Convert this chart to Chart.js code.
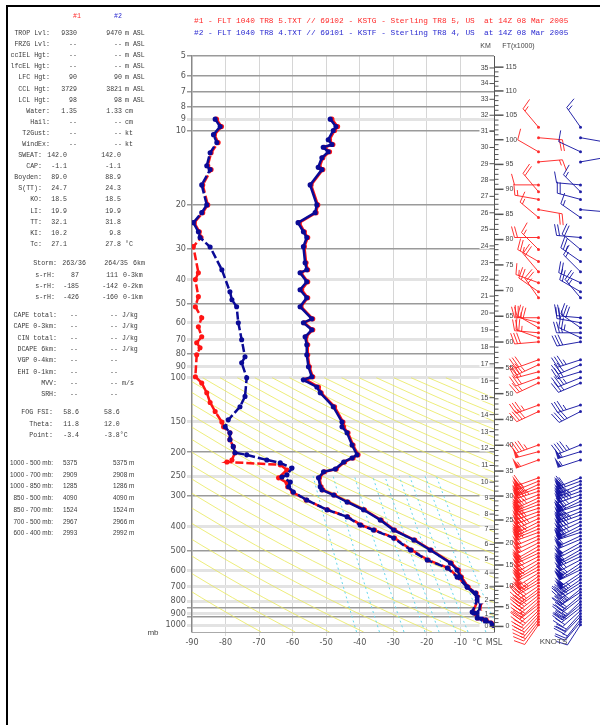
<!DOCTYPE html>
<html>
<head>
<meta charset="utf-8">
<script src="https://cdn.jsdelivr.net/npm/chart.js@4.4.0/dist/chart.umd.min.js"></script>
<style>
body { margin: 0; width: 600px; height: 725px; overflow: hidden; background: #fff; position: relative; }
#frame { position: absolute; left: 6px; top: 5px; width: 620px; height: 740px; border-top: 2px solid #000; border-left: 2px solid #000; }
canvas { position: absolute; left: 0; top: 0; }
.t { position: absolute; white-space: pre; font: 6.6px 'Liberation Mono', monospace; line-height: 8px; color: #3a3a3a; }
</style>
</head>
<body>
<div id="frame"></div>
<canvas id="sounding" width="600" height="725"></canvas>
<script>
// pressure axis ticks (mb)
const pTicks = [5, 6, 7, 8, 9, 10, 20, 30, 40, 50, 60, 70, 80, 90, 100, 150, 200, 250, 300, 400, 500, 600, 700, 800, 850, 900, 925, 1000];
const darkLevels = [5, 6, 7, 8, 10, 20, 30, 50, 80, 200, 300, 500, 850, 925];

// temperature, both soundings share levels
const pT = [9.0, 9.65, 10.0, 10.9, 11.4, 11.7, 12.2, 12.9, 14.1, 14.4, 16.6, 20.0, 21.5, 23.6, 25.7, 27.1, 29.5, 34.3, 36.6, 37.6, 40.9, 44.1, 47.5, 51.6, 57.8, 59.9, 64.0, 68.3, 73.6, 80.8, 90.3, 99.1, 102, 109, 115, 131, 151, 158, 167, 187, 205, 211, 219, 234, 240, 254, 276, 284, 298, 318, 342, 376, 413, 453, 497, 561, 599, 639, 702, 770, 807, 886, 894, 928, 955, 982, 1003];
const T1 = [-48.3, -46.6, -47.5, -49.0, -48.0, -50.5, -49.0, -51.0, -52.0, -51.0, -54.5, -52.5, -53.0, -58.0, -56.5, -55.5, -56.5, -56.0, -55.5, -57.5, -55.5, -57.3, -55.5, -57.5, -54.0, -56.5, -54.0, -56.0, -55.5, -55.5, -55.0, -54.0, -56.0, -52.3, -51.5, -47.5, -45.0, -44.8, -43.5, -42.0, -40.5, -42.0, -44.5, -47.0, -50.5, -52.0, -51.5, -51.0, -47.5, -43.5, -38.6, -33.6, -29.6, -23.6, -18.7, -12.7, -10.6, -9.7, -7.7, -4.8, -3.8, -4.2, -5.7, -3.8, -2.3, -0.8, 1.2];
const T2 = [-48.8, -47.1, -47.9, -49.4, -48.3, -50.9, -49.4, -51.3, -52.4, -51.3, -54.8, -52.8, -53.3, -58.4, -56.8, -55.8, -56.8, -56.3, -55.8, -57.8, -55.8, -57.8, -55.8, -57.8, -54.3, -56.8, -54.3, -56.3, -55.8, -55.8, -55.3, -54.3, -56.8, -52.8, -51.8, -47.9, -45.3, -45.3, -43.8, -42.3, -40.8, -42.3, -44.8, -47.3, -50.8, -52.3, -51.8, -51.3, -47.8, -43.8, -38.9, -33.9, -29.9, -23.9, -19.0, -13.0, -11.0, -10.0, -8.0, -5.0, -4.0, -4.5, -6.0, -4.0, -2.5, -1.0, 1.0];

// dewpoint #1 (red)
const pTd1 = [9.0, 9.65, 10.4, 11.2, 12.3, 13.9, 14.4, 16.6, 20.0, 21.5, 23.6, 25.7, 27.1, 29.5, 37.6, 40.1, 47.0, 51.6, 57.2, 62.2, 68.3, 72.2, 75.6, 80.8, 99.1, 105, 115, 126, 137, 151, 158, 167, 178, 190, 201, 215, 219, 225, 236, 254, 266, 276, 290, 312, 342, 365, 394, 413, 445, 497, 546, 588, 639, 702, 742, 792, 886, 937, 972, 1003];
const Td1 = [-82.7, -81.2, -83.3, -82.2, -84.3, -85.3, -84.3, -86.8, -85.3, -86.8, -89.3, -87.8, -87.3, -89.6, -88.1, -89.0, -88.1, -89.0, -87.1, -88.1, -87.1, -88.6, -87.6, -88.6, -89.0, -87.1, -85.6, -84.6, -83.1, -81.1, -80.6, -78.7, -78.7, -77.7, -77.2, -78.1, -79.6, -63.7, -61.7, -64.2, -61.7, -61.5, -60.0, -56.0, -49.6, -43.6, -39.6, -35.6, -29.6, -24.6, -19.6, -13.6, -10.8, -7.8, -5.3, -4.8, -6.3, -4.8, -2.3, 0.0];

// dewpoint #2 (blue)
const pTd2 = [9.0, 9.65, 10.4, 11.2, 12.3, 13.9, 14.4, 16.6, 20.0, 21.5, 23.6, 25.7, 27.1, 29.6, 36.6, 44.9, 48.4, 51.6, 59.9, 70.2, 82.3, 87.0, 100, 119, 131, 148, 158, 167, 178, 190, 201, 205, 215, 221, 232, 247, 252, 264, 276, 290, 312, 342, 365, 394, 413, 445, 497, 546, 588, 639, 702, 742, 792, 886, 937, 972, 1003];
const Td2 = [-83.1, -81.6, -83.6, -82.6, -84.6, -85.6, -84.6, -87.1, -85.6, -87.1, -89.6, -88.1, -87.6, -84.6, -81.1, -78.7, -78.1, -76.7, -76.2, -75.2, -74.2, -75.2, -73.7, -74.2, -75.7, -79.2, -80.1, -78.7, -78.7, -77.7, -77.2, -73.7, -67.7, -63.7, -60.2, -61.7, -63.2, -60.7, -61.2, -59.8, -55.8, -49.8, -43.8, -39.9, -35.9, -29.9, -24.9, -19.9, -13.9, -11.0, -8.0, -5.5, -5.0, -6.5, -5.0, -2.5, -0.2];

// winds (mb, deg, kt)
const windP = [9.7, 10.7, 12.2, 13.4, 16.6, 17.7, 19.0, 20.9, 22.5, 27.1, 30.3, 33.9, 37.3, 41.3, 44.9, 47.5, 57.2, 59.9, 62.8, 65.8, 68.9, 71.6, 84.6, 88.6, 94.6, 100, 105, 129, 137, 187, 199, 215,
  254, 262, 270, 279, 288, 297, 306, 316, 326, 337, 348, 359, 371, 383, 396, 409, 422, 436, 450, 465, 480, 496, 512, 528, 545, 562, 580, 598, 616, 635, 655, 675, 695, 716, 737, 758, 780, 803, 826, 850, 874, 898, 923, 948, 973, 998];
const wDir1 = [320, 95, 300, 85, 270, 320, 280, 100, 310, 270, 315, 300, 320, 290, 305, 325, 270, 285, 300, 275, 290, 265, 250, 245, 255, 250, 245, 250, 245, 250, 255, 250,
  250, 248, 245, 250, 252, 248, 245, 247, 250, 252, 250, 248, 245, 243, 245, 248, 250, 247, 245, 243, 240, 242, 245, 243, 240, 238, 240, 242, 238, 235, 237, 240, 236, 233, 235, 232, 230, 228, 232, 230, 226, 224, 222, 220, 218, 215];
const wSpd1 = [15, 20, 10, 15, 10, 20, 15, 20, 15, 20, 15, 25, 20, 15, 20, 25, 20, 25, 30, 20, 25, 30, 30, 35, 30, 30, 25, 35, 40, 45, 50, 55,
  60, 65, 70, 80, 85, 80, 75, 70, 65, 70, 75, 80, 85, 80, 75, 70, 65, 60, 55, 55, 50, 55, 60, 65, 70, 70, 65, 60, 55, 50, 45, 45, 40, 40, 35, 35, 30, 30, 25, 25, 25, 20, 20, 15, 15, 10];
const wDir2 = [325, 100, 295, 80, 275, 315, 285, 95, 305, 275, 310, 305, 315, 295, 300, 320, 275, 280, 305, 270, 295, 260, 252, 247, 253, 248, 247, 252, 243, 248, 253, 252,
  248, 250, 247, 248, 250, 250, 243, 245, 252, 250, 248, 250, 247, 245, 243, 246, 252, 245, 247, 241, 242, 240, 243, 245, 242, 236, 238, 244, 236, 237, 235, 238, 238, 231, 237, 230, 232, 226, 230, 232, 228, 222, 224, 218, 220, 213];
const wSpd2 = [15, 15, 10, 20, 10, 15, 20, 15, 15, 20, 20, 25, 15, 20, 20, 25, 25, 20, 30, 25, 25, 30, 35, 30, 30, 35, 25, 35, 40, 45, 55, 55,
  60, 70, 70, 75, 85, 85, 75, 70, 70, 70, 75, 85, 80, 80, 75, 70, 65, 60, 55, 50, 55, 55, 60, 65, 70, 65, 65, 60, 50, 50, 45, 40, 40, 40, 35, 30, 30, 30, 25, 25, 20, 20, 20, 15, 10, 10];

// background lines
const thetaLines = [200, 210, 220, 230, 240, 250, 260, 270, 280, 290, 300, 310, 320, 330, 340, 350, 360, 370, 380, 390, 400, 410, 420, 430, 440, 450, 460, 470, 480, 490, 500];
const adiabatP = [1067, 1000, 925, 850, 775, 700, 625, 550, 475, 400, 340, 280, 230, 190, 150, 125, 100];
const mixLines = [0.1, 0.2, 0.4, 0.7, 1, 1.5, 2, 3, 4];
const mixP = [1067, 1000, 900, 800, 700, 600, 500, 400, 300, 250];

const kmTicks = [0, 1, 2, 3, 4, 5, 6, 7, 8, 9, 10, 11, 12, 13, 14, 15, 16, 17, 18, 19, 20, 21, 22, 23, 24, 25, 26, 27, 28, 29, 30, 31, 32, 33, 34, 35];
const ftMax = 115;

// standard atmosphere: height (m) -> pressure (mb)
function stdPressure(h) {
    if (h <= 11000) return 1013.25 * Math.pow(1 - 2.25577e-5 * h, 5.25588);
    if (h <= 20000) return 226.32 * Math.exp(-(h - 11000) / 6341.6);
    if (h <= 32000) return 54.749 * Math.pow(216.65 / (216.65 + 0.001 * (h - 20000)), 34.1632);
    return 8.6802 * Math.pow(228.65 / (228.65 + 0.0028 * (h - 32000)), 12.2011);
}

function mixT(w, p) {
    let es = w * p / (622 + w);
    let l = Math.log(es / 6.112);
    return 243.5 * l / (17.67 - l);
}

function pts(ps, ts) {
    return ps.map((p, i) => ({x: ts[i], y: p}));
}

let datasets = [];

thetaLines.forEach(th => {
    datasets.push({
        data: adiabatP.map(p => ({x: th * Math.pow(p / 1000, 0.286) - 273.15, y: p})),
        borderColor: 'rgba(232,232,90,0.8)', borderWidth: 1, pointRadius: 0, showLine: true, order: 10
    });
});
mixLines.forEach(w => {
    datasets.push({
        data: mixP.map(p => ({x: mixT(w, p), y: p})),
        borderColor: 'rgba(100,215,235,1)', borderWidth: 1, borderDash: [2, 3], pointRadius: 0, showLine: true, order: 9
    });
});

const red = 'rgb(255,20,20)';
const blue = 'rgb(10,10,150)';

datasets.push({data: pts(pTd1, Td1), borderColor: red, backgroundColor: red, borderWidth: 2.5, borderDash: [8, 3], pointRadius: 1.3, showLine: true, order: 4});
datasets.push({data: pts(pT, T1), borderColor: red, backgroundColor: red, borderWidth: 2.5, pointRadius: 1.3, showLine: true, order: 3});
datasets.push({data: pts(pTd2, Td2), borderColor: blue, backgroundColor: blue, borderWidth: 2.5, borderDash: [8, 3], pointRadius: 1.3, showLine: true, order: 2});
datasets.push({data: pts(pT, T2), borderColor: blue, backgroundColor: blue, borderWidth: 2.5, pointRadius: 1.3, showLine: true, order: 1});

function drawBarb(c, x, y, dir, spd, col) {
    let r = dir * Math.PI / 180;
    let sx = Math.sin(r), sy = -Math.cos(r);
    let fx = -sy, fy = sx;
    let L = 24, F = 11;
    c.strokeStyle = col;
    c.fillStyle = col;
    c.lineWidth = 1;
    c.beginPath();
    c.moveTo(x, y);
    c.lineTo(x + sx * L, y + sy * L);
    c.stroke();
    let s = Math.round(spd / 5) * 5;
    let d = L;
    while (s >= 50) {
        let px = x + sx * d, py = y + sy * d;
        c.beginPath();
        c.moveTo(px, py);
        c.lineTo(px + fx * F, py + fy * F);
        c.lineTo(x + sx * (d - 4), y + sy * (d - 4));
        c.closePath();
        c.fill();
        d -= 5;
        s -= 50;
    }
    while (s >= 10) {
        let px = x + sx * d, py = y + sy * d;
        c.beginPath();
        c.moveTo(px, py);
        c.lineTo(px + fx * F + sx * 3, py + fy * F + sy * 3);
        c.stroke();
        d -= 3;
        s -= 10;
    }
    if (s >= 5) {
        let px = x + sx * d, py = y + sy * d;
        c.beginPath();
        c.moveTo(px, py);
        c.lineTo(px + fx * F / 2 + sx * 1.5, py + fy * F / 2 + sy * 1.5);
        c.stroke();
    }
    c.beginPath();
    c.arc(x, y, 1.5, 0, Math.PI * 2);
    c.fill();
}

const sidePlugin = {
    id: 'side',
    afterDraw(chart) {
        const c = chart.ctx, a = chart.chartArea, ys = chart.scales.y;
        const x0 = Math.round(a.right) + 0.5;
        c.save();
        // height axis
        c.strokeStyle = '#555';
        c.lineWidth = 1;
        c.beginPath();
        c.moveTo(x0, a.top);
        c.lineTo(x0, a.bottom);
        c.stroke();
        c.fillStyle = '#444';
        c.font = "7px 'Liberation Sans', sans-serif";
        c.textBaseline = 'middle';
        kmTicks.forEach(km => {
            let yy = ys.getPixelForValue(stdPressure(km * 1000));
            c.fillStyle = '#fff';
            c.fillRect(x0 - 15, yy - 3, 10, 6);
            c.beginPath();
            c.moveTo(x0 - 5, yy);
            c.lineTo(x0, yy);
            c.stroke();
            c.fillStyle = '#444';
            c.textAlign = 'right';
            c.fillText(String(km), x0 - 6, yy);
        });
        for (let f = 0; f <= ftMax; f++) {
            let yy = ys.getPixelForValue(stdPressure(f * 304.8));
            let major = f % 5 === 0;
            c.lineWidth = major ? 1.5 : 1;
            c.beginPath();
            c.moveTo(x0, yy);
            c.lineTo(x0 + (major ? 9 : 4), yy);
            c.stroke();
            if (major) {
                c.textAlign = 'left';
                c.fillText(String(f), x0 + 11, yy);
            }
        }
        c.textAlign = 'center';
        c.fillText('KM', x0 - 9, 46);
        c.fillText('FT(x1000)', x0 + 24, 46);
        c.font = "8px 'Liberation Sans', sans-serif";
        c.fillText('mb', 153, 633);
        // wind barbs
        [[wDir1, wSpd1, x0 + 44, 'rgba(255,30,30,0.9)'], [wDir2, wSpd2, x0 + 86, 'rgba(15,15,160,0.9)']].forEach(col => {
            windP.forEach((p, i) => {
                drawBarb(c, col[2], ys.getPixelForValue(p), col[0][i], col[1][i], col[3]);
            });
        });
        c.fillStyle = '#444';
        c.fillText('KNOTS', x0 + 59, 642);
        c.restore();
    }
};

Chart.defaults.font.family = "'Liberation Sans Narrow', 'DejaVu Sans Condensed', 'Liberation Sans', sans-serif";

const chart = new Chart(document.getElementById('sounding'), {
    type: 'scatter',
    data: {datasets: datasets},
    options: {
        responsive: false,
        animation: false,
        layout: {padding: {left: 162, right: 106, top: 56, bottom: 73}},
        elements: {line: {tension: 0}},
        plugins: {legend: {display: false}, tooltip: {enabled: false}},
        scales: {
            x: {
                type: 'linear',
                min: -90,
                max: 0,
                ticks: {
                    stepSize: 5,
                    autoSkip: false,
                    maxRotation: 0,
                    padding: 1,
                    color: '#555',
                    font: {size: 9},
                    callback: v => v === 0 ? 'MSL' : (v === -5 ? '°C' : (v % 10 === 0 ? String(v) : ''))
                },
                grid: {
                    color: c => (c.tick && c.tick.value % 10 === 0 && c.tick.value > -90 && c.tick.value < 0) ? '#d6d6d6' : 'rgba(0,0,0,0)',
                    lineWidth: 1,
                    tickLength: 4
                },
                border: {display: true, color: '#aaa', width: 1},
                afterFit: s => { s.height = 20; }
            },
            y: {
                type: 'logarithmic',
                reverse: true,
                min: 5,
                max: 1067,
                afterBuildTicks: s => { s.ticks = pTicks.map(v => ({value: v})); },
                ticks: {
                    autoSkip: false,
                    padding: 1,
                    color: '#555',
                    font: {size: 9},
                    callback: v => (v === 850 || v === 925) ? '' : String(v)
                },
                grid: {
                    color: c => (c.tick && darkLevels.includes(c.tick.value)) ? '#9a9a9a' : '#e3e3e3',
                    lineWidth: c => (c.tick && darkLevels.includes(c.tick.value)) ? 1.5 : 3,
                    tickLength: 5
                },
                border: {display: true, color: '#888', width: 1.5},
                afterFit: s => { s.width = 30; }
            }
        }
    },
    plugins: [sidePlugin]
});

// header and stats panel (text)
function put(txt, x, y, align, color, font) {
    let d = document.createElement('div');
    d.className = 't';
    d.textContent = txt;
    d.style.top = (y - 4) + 'px';
    if (align === 'right') {
        d.style.right = (600 - x) + 'px';
        d.style.textAlign = 'right';
    } else {
        d.style.left = x + 'px';
    }
    if (color) d.style.color = color;
    if (font) d.style.font = font;
    document.body.appendChild(d);
}

const headFont = "7.8px 'Liberation Mono', monospace";
put('#1 - FLT 1040 TR8 5.TXT // 69102 - KSTG - Sterling TR8 5, US  at 14Z 08 Mar 2005', 194, 21, 'left', '#ff2a2a', headFont);
put('#2 - FLT 1040 TR8 4.TXT // 69101 - KSTF - Sterling TR8 4, US  at 14Z 08 Mar 2005', 194, 33, 'left', '#2a2ad0', headFont);
put('#1', 73, 17, 'left', '#ff2a2a');
put('#2', 114, 17, 'left', '#2a2ad0');

const levelRows = [
    ['TROP Lvl:', '9330', '9470', 'm ASL'],
    ['FRZG Lvl:', '--', '--', 'm ASL'],
    ['ccIEL Hgt:', '--', '--', 'm ASL'],
    ['lfcEL Hgt:', '--', '--', 'm ASL'],
    ['LFC Hgt:', '90', '90', 'm ASL'],
    ['CCL Hgt:', '3729', '3821', 'm ASL'],
    ['LCL Hgt:', '98', '98', 'm ASL'],
    ['Water:', '1.35', '1.33', 'cm'],
    ['Hail:', '--', '--', 'cm'],
    ['T2Gust:', '--', '--', 'kt'],
    ['WindEx:', '--', '--', 'kt']
];
levelRows.forEach((r, i) => {
    let y = 34 + i * 11.1;
    put(r[0], 50, y, 'right');
    put(r[1], 77, y, 'right');
    put(r[2], 122, y, 'right');
    put(r[3], 125, y, 'left');
});

const indexRows = [
    ['SWEAT:', '142.0', '142.0', ''],
    ['CAP:', '-1.1', '-1.1', ''],
    ['Boyden:', '89.0', '88.9', ''],
    ['S(TT):', '24.7', '24.3', ''],
    ['KO:', '18.5', '18.5', ''],
    ['LI:', '19.9', '19.9', ''],
    ['TT:', '32.1', '31.8', ''],
    ['KI:', '10.2', '9.8', ''],
    ['Tc:', '27.1', '27.8', '°C']
];
indexRows.forEach((r, i) => {
    let y = 156 + i * 11.1;
    put(r[0], 42, y, 'right');
    put(r[1], 67, y, 'right');
    put(r[2], 121, y, 'right');
    put(r[3], 125, y, 'left');
});

put('Storm:', 57, 264, 'right');
put('263/36', 86, 264, 'right');
put('264/35', 128, 264, 'right');
put('6km', 133, 264, 'left');
const helicityRows = [
    ['s-rH:', '87', '111', '0-3km'],
    ['s-rH:', '-185', '-142', '0-2km'],
    ['s-rH:', '-426', '-160', '0-1km']
];
helicityRows.forEach((r, i) => {
    let y = 275.5 + i * 11.3;
    put(r[0], 55, y, 'right');
    put(r[1], 79, y, 'right');
    put(r[2], 118, y, 'right');
    put(r[3], 123, y, 'left');
});

const capeRows = [
    ['CAPE total:', '--', '--', 'J/kg'],
    ['CAPE 0-3km:', '--', '--', 'J/kg'],
    ['CIN total:', '--', '--', 'J/kg'],
    ['DCAPE 6km:', '--', '--', 'J/kg'],
    ['VGP 0-4km:', '--', '--', ''],
    ['EHI 0-1km:', '--', '--', ''],
    ['MVV:', '--', '--', 'm/s'],
    ['SRH:', '--', '--', '']
];
capeRows.forEach((r, i) => {
    let y = 316 + i * 11.3;
    put(r[0], 57, y, 'right');
    put(r[1], 78, y, 'right');
    put(r[2], 118, y, 'right');
    put(r[3], 122, y, 'left');
});

const fogRows = [
    ['FOG FSI:', '58.6', '58.6'],
    ['Theta:', '11.8', '12.0'],
    ['Point:', '-3.4', '-3.8°C']
];
fogRows.forEach((r, i) => {
    let y = 413 + i * 11.5;
    put(r[0], 53, y, 'right');
    put(r[1], 79, y, 'right');
    put(r[2], 104, y, 'left');
});

const thickRows = [
    ['1000 - 500 mb:', '5375', '5375 m'],
    ['1000 - 700 mb:', '2909', '2908 m'],
    ['1000 - 850 mb:', '1285', '1286 m'],
    ['850 - 500 mb:', '4090', '4090 m'],
    ['850 - 700 mb:', '1524', '1524 m'],
    ['700 - 500 mb:', '2967', '2966 m'],
    ['600 - 400 mb:', '2993', '2992 m']
];
const thickFont = "6.4px 'Liberation Sans Narrow', 'Liberation Sans', sans-serif";
thickRows.forEach((r, i) => {
    let y = 463 + i * 11.7;
    put(r[0], 53, y, 'right', null, thickFont);
    put(r[1], 63, y, 'left', null, thickFont);
    put(r[2], 113, y, 'left', null, thickFont);
});
</script>
</body>
</html>
